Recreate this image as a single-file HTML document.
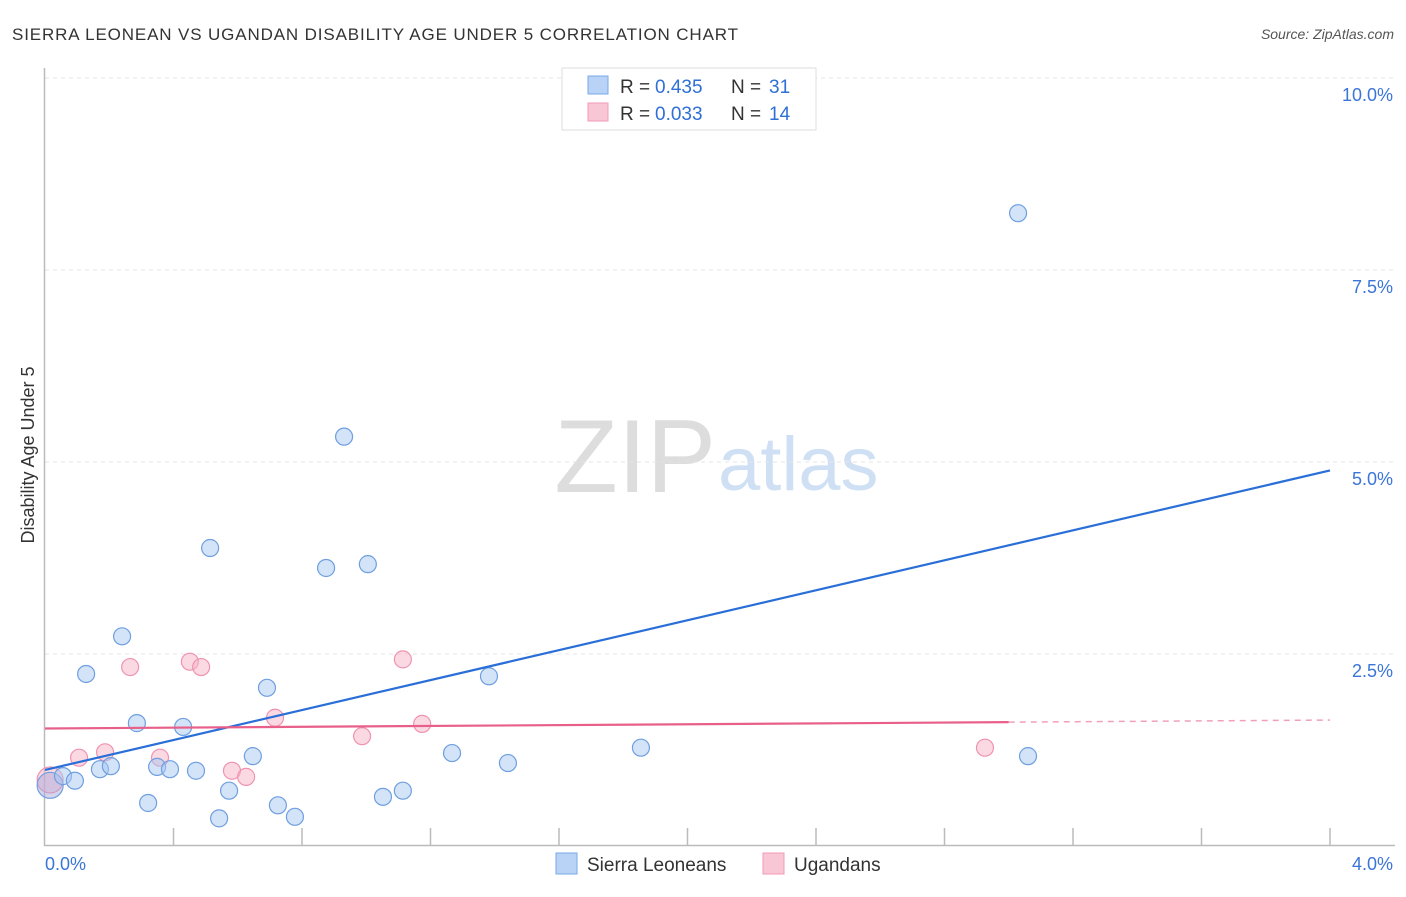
<!DOCTYPE html>
<html><head><meta charset="utf-8"><style>
body{margin:0;background:#fff;font-family:"Liberation Sans",sans-serif;}
svg text{font-family:"Liberation Sans",sans-serif;}
</style></head><body>
<svg id="chart" width="1406" height="892" xmlns="http://www.w3.org/2000/svg">
<text x="12" y="40" font-size="17" fill="#333" textLength="726">SIERRA LEONEAN VS UGANDAN DISABILITY AGE UNDER 5 CORRELATION CHART</text>
<text x="1394" y="39" font-size="14" fill="#555" font-style="italic" text-anchor="end">Source: ZipAtlas.com</text>
<text x="716" y="492" font-size="104" text-anchor="end" fill="#ddd" font-family="Liberation Serif">ZIP</text>
<text x="718" y="490" font-size="76" fill="#cfe0f5">atlas</text>
<text transform="translate(34,455) rotate(-90)" font-size="18" fill="#333" text-anchor="middle">Disability Age Under 5</text>
<g id="grid"></g><g id="marks"></g>
<g>
<rect x="562" y="68" width="254" height="62" fill="#fff" stroke="#ddd"/>
<rect x="588" y="76" width="20" height="18" fill="#b8d3f5" stroke="#7aaae8"/>
<text x="620" y="93" font-size="19" fill="#333">R =</text>
<text x="655" y="93" font-size="19" fill="#2f6fd6">0.435</text>
<text x="731" y="93" font-size="19" fill="#333">N =</text>
<text x="769" y="93" font-size="19" fill="#2f6fd6">31</text>
<rect x="588" y="103" width="20" height="18" fill="#f9c6d5" stroke="#f09ab4"/>
<text x="620" y="120" font-size="19" fill="#333">R =</text>
<text x="655" y="120" font-size="19" fill="#2f6fd6">0.033</text>
<text x="731" y="120" font-size="19" fill="#333">N =</text>
<text x="769" y="120" font-size="19" fill="#2f6fd6">14</text>
</g>
<g>
<rect x="556" y="853" width="21" height="21" fill="#b8d3f5" stroke="#7aaae8"/>
<text x="587" y="871" font-size="19" fill="#333">Sierra Leoneans</text>
<rect x="763" y="853" width="21" height="21" fill="#f9c6d5" stroke="#f09ab4"/>
<text x="794" y="871" font-size="19" fill="#333">Ugandans</text>
</g>
</svg>
<script>
const yTicks=[2.5,5.0,7.5,10.0];
const xLabels=["0.0%","4.0%"];
const blueX=[3.029,0.931,0.514,0.875,1.005,0.240,0.128,0.691,1.382,0.286,0.430,0.647,1.267,1.855,3.060,1.441,0.171,0.205,0.349,0.389,0.470,0.056,0.093,0.573,0.321,0.725,1.052,1.114,0.542,0.778];
const blueY=[8.24,5.33,3.88,3.62,3.67,2.73,2.24,2.06,2.21,1.60,1.55,1.17,1.21,1.28,1.17,1.08,1.00,1.04,1.03,1.00,0.98,0.91,0.85,0.72,0.56,0.53,0.64,0.72,0.36,0.38];
const pinkX=[0.106,0.187,0.265,0.358,0.451,0.486,0.582,0.626,0.716,0.987,1.114,1.174,2.926];
const pinkY=[1.15,1.22,2.33,1.15,2.40,2.33,0.98,0.90,1.67,1.43,2.43,1.59,1.28];
const bigBlue=[0.016,0.79], bigPink=[0.016,0.86];
const blueTrend=[0.99,4.89], pinkTrend=[1.53,1.64];
const X=v=>45+v*321.25, Y=v=>846-v*76.8;
const NS="http://www.w3.org/2000/svg";
const g=document.getElementById('grid'), m=document.getElementById('marks');
function el(t,a,p){const e=document.createElementNS(NS,t);for(const k in a)e.setAttribute(k,a[k]);p.appendChild(e);return e;}
yTicks.forEach(t=>{
 const l=el('line',{x1:45,x2:1395,y1:Y(t),y2:Y(t),stroke:'#e4e4e4','stroke-dasharray':'4,4'},g);
 
 
 const tx=el('text',{x:1393,y:Y(t)+23,'font-size':18,fill:'#3a75d8','text-anchor':'end'},g);
 tx.textContent=t.toFixed(1)+'%';
 
 
});
const ax=el('path',{d:'M44.5 68V845.5H1395',fill:'none',stroke:'#bbb','stroke-width':1.5},g);


for(let i=1;i<=10;i++){const t=el('line',{x1:X(i*0.4),x2:X(i*0.4),y1:828,y2:845,stroke:'#bbb','stroke-width':1.5},g);
 
 }
[[0,45,'start'],[4,1393,'end']].forEach((d,i)=>{const t=el('text',{x:d[1],y:870,'font-size':18,fill:'#3a75d8','text-anchor':d[2]},g);t.textContent=xLabels[i];
 
 });
function pt(x,y,r,c){const e=el('circle',{cx:X(x),cy:Y(y),r:r,fill:c[0],stroke:c[1],'stroke-width':1.2},m);return e;}
const bc=['rgba(168,200,242,0.5)','#6f9fe0'], pc=['rgba(248,180,200,0.5)','#ef93b0'];
let b=pt(bigPink[0],bigPink[1],13,pc);


b=pt(bigBlue[0],bigBlue[1],13,['rgba(170,170,220,0.5)','#6f9fe0']);


pinkX.forEach((x,i)=>{const c=pt(x,pinkY[i],8.5,pc);
 
 });
blueX.forEach((x,i)=>{const c=pt(x,blueY[i],8.5,bc);
 
 });
let l=el('line',{x1:X(0),y1:Y(blueTrend[0]),x2:X(4),y2:Y(blueTrend[1]),stroke:'#2a6fd8','stroke-width':2.2},m);


const py=x=>pinkTrend[0]+(pinkTrend[1]-pinkTrend[0])*x/4;
l=el('line',{x1:X(0),y1:Y(py(0)),x2:X(3),y2:Y(py(3)),stroke:'#e8608a','stroke-width':2.2},m);


l=el('line',{x1:X(3),y1:Y(py(3)),x2:X(4),y2:Y(py(4)),stroke:'#f0a0b8','stroke-width':1.5,'stroke-dasharray':'6,5'},m);


</script>
</body></html>
